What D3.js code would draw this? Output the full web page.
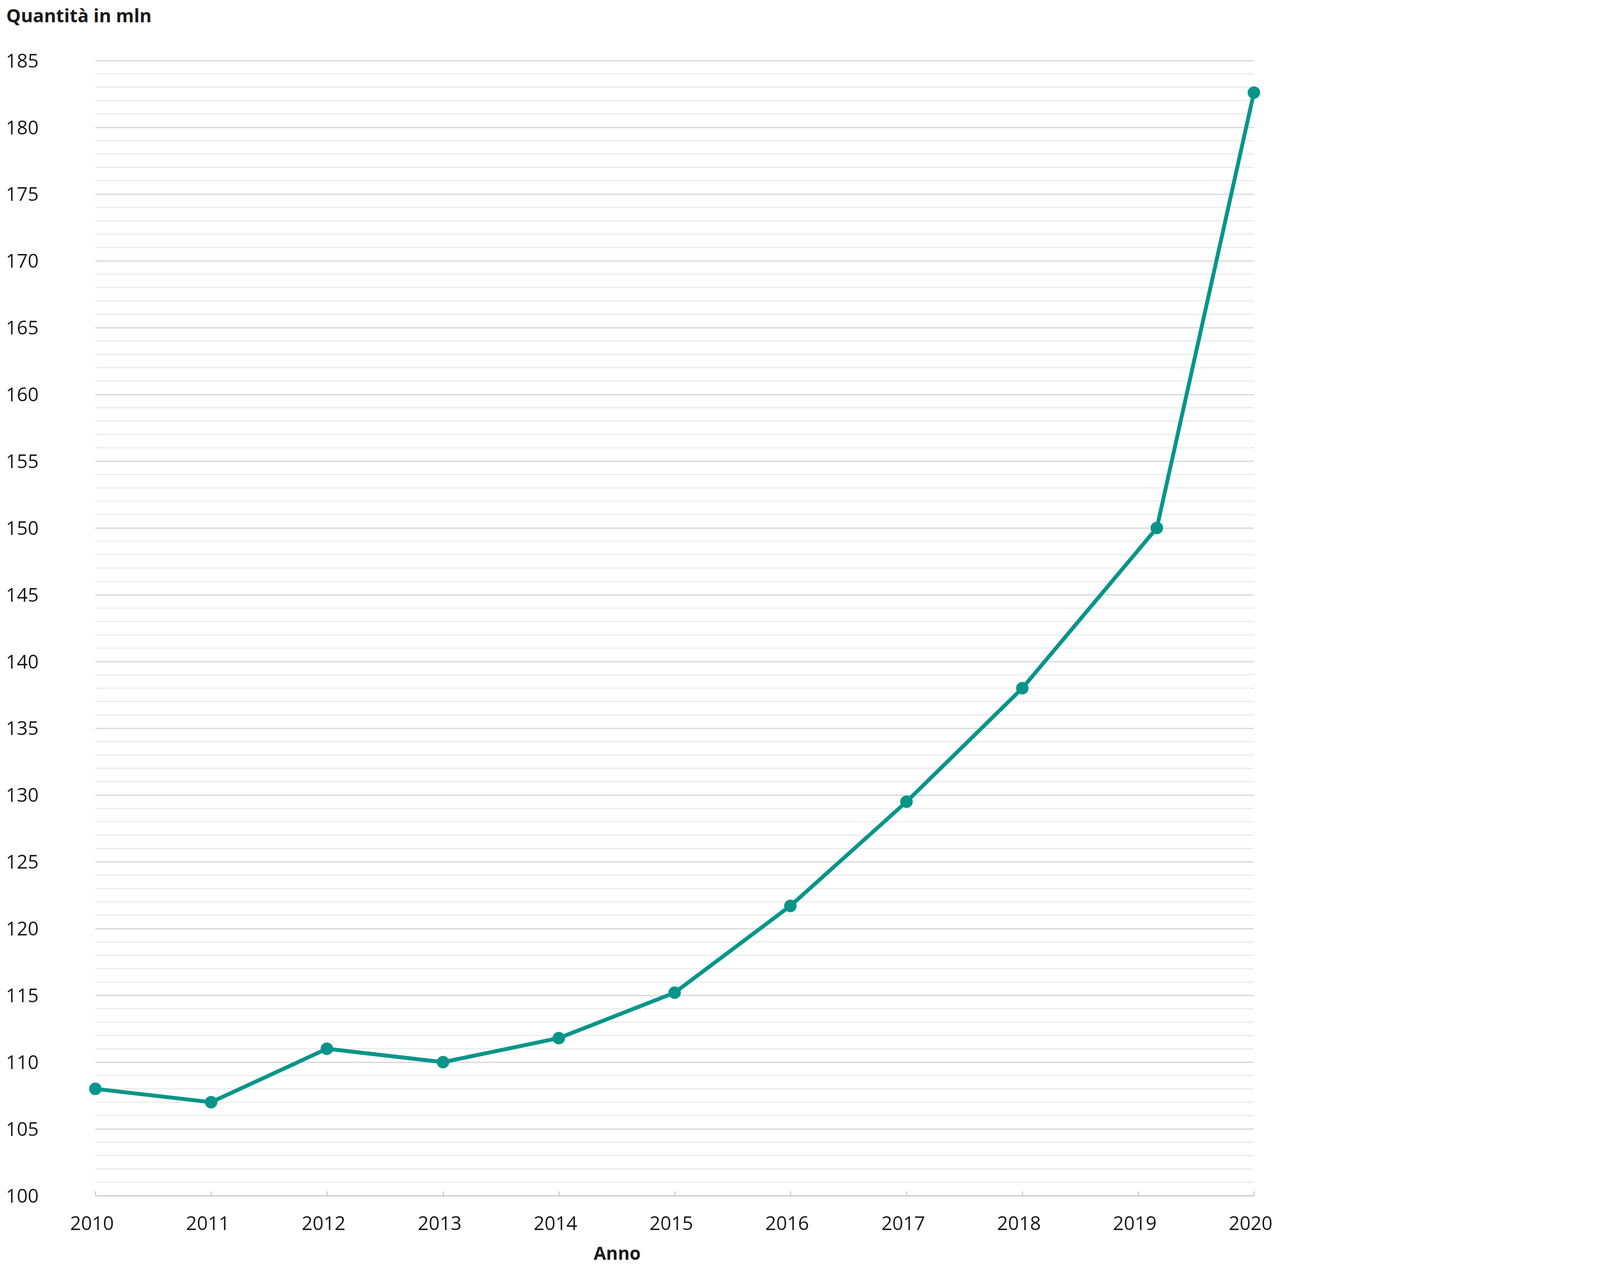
<!DOCTYPE html>
<html>
<head>
<meta charset="utf-8">
<script src="https://cdn.jsdelivr.net/npm/d3@7"></script>
<style>
html,body{margin:0;padding:0;background:#fff;}
svg{display:block;}
text{font-family:"Open Sans","Noto Sans",sans-serif;fill:#1a1a1a;}
</style>
</head>
<body>
<svg id="chart" width="5760" height="3240"></svg>
<script>
// ---- data ----
const dates = ["2010-01-01","2011-01-01","2012-01-01","2013-01-01","2014-01-01","2015-01-01","2016-01-01","2017-01-01","2018-01-01","2019-03-01","2020-01-01"];
const values = [108, 107, 111, 110, 111.8, 115.2, 121.7, 129.5, 138, 150, 182.6];
const yearTicks = ["2010","2011","2012","2013","2014","2015","2016","2017","2018","2019","2020"];
const yMajorTicks = [100,105,110,115,120,125,130,135,140,145,150,155,160,165,170,175,180,185];
const yTitle = "Quantità in mln";
const xTitle = "Anno";

// ---- layout ----
const svg = d3.select("#chart");
const parse = d3.timeParse("%Y-%m-%d");
const x = d3.scaleTime()
  .domain([parse("2010-01-01"), parse("2020-01-01")])
  .range([244, 3210]);
const y = d3.scaleLinear().domain([100, 185]).range([3060, 155]);

const teal = "#07958a";

// minor gridlines
const minor = d3.range(101, 185, 1).filter(v => v % 5 !== 0);
svg.append("g").selectAll("line").data(minor).join("line")
  .attr("x1", x.range()[0]).attr("x2", x.range()[1])
  .attr("y1", d => y(d)).attr("y2", d => y(d))
  .attr("stroke", "#ebebeb").attr("stroke-width", 3);

// major gridlines + labels via axis
const yAxis = d3.axisLeft(y).tickValues(yMajorTicks)
  .tickSize(-(x.range()[1] - x.range()[0])).tickPadding(0)
  .tickFormat(d3.format("d"));
const gy = svg.append("g").attr("transform", `translate(${x.range()[0]},0)`).call(yAxis);
gy.select(".domain").remove();
gy.selectAll(".tick line").attr("stroke", d => d === 100 ? "#cfcfcf" : "#d6d6d6").attr("stroke-width", 3);
gy.selectAll(".tick text")
  .attr("x", 99 - x.range()[0])
  .attr("dy", "0.35em")
  .style("font-size", "49px")
  .style("font-stretch", "90%")
  .style("font-family", "'Open Sans','Noto Sans',sans-serif")
  .attr("fill", "#1a1a1a");

// x axis
const xAxis = d3.axisBottom(x)
  .tickValues(yearTicks.map(t => parse(t + "-01-01")))
  .tickSize(0).tickPadding(0)
  .tickFormat(d3.timeFormat("%Y"));
const gx = svg.append("g").attr("transform", `translate(0,${y(100)})`).call(xAxis);
gx.select(".domain").attr("stroke", "#cccccc").attr("stroke-width", 3);
gx.selectAll(".tick line").attr("y1", -11).attr("y2", 0).attr("stroke", "#cccccc").attr("stroke-width", 3);
gx.selectAll(".tick text")
  .attr("y", 88).attr("dy", 0).attr("dx", -9)
  .style("font-size", "49px")
  .style("font-stretch", "90%")
  .style("font-family", "'Open Sans','Noto Sans',sans-serif")
  .attr("fill", "#1a1a1a");

// line
const pts = dates.map((d, i) => ({date: parse(d), value: values[i]}));
const line = d3.line().x(d => x(d.date)).y(d => y(d.value));
svg.append("path").datum(pts)
  .attr("d", line).attr("fill", "none")
  .attr("stroke", teal).attr("stroke-width", 10)
  .attr("stroke-linejoin", "round");
svg.append("g").selectAll("circle").data(pts).join("circle")
  .attr("cx", d => x(d.date)).attr("cy", d => y(d.value))
  .attr("r", 16).attr("fill", teal);

// titles
svg.append("text").attr("x", 16).attr("y", 57)
  .style("font-size", "47px").style("font-weight", "700")
  .text(yTitle);
svg.append("text").attr("x", 1580).attr("y", 3224)
  .attr("text-anchor", "middle")
  .style("font-size", "46px").style("font-weight", "700")
  .text(xTitle);
</script>
</body>
</html>
